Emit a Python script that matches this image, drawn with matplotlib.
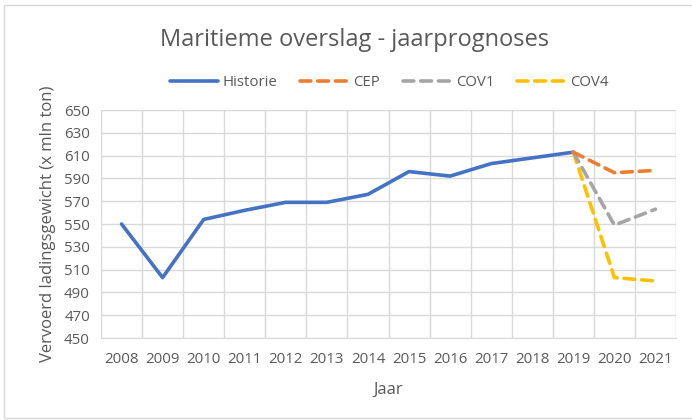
import matplotlib
matplotlib.use("Agg")
import matplotlib.pyplot as plt
from matplotlib.patches import Rectangle

# data
years = ["2008", "2009", "2010", "2011", "2012", "2013", "2014",
         "2015", "2016", "2017", "2018", "2019", "2020", "2021"]
historie = [550, 503, 554, 562, 569, 569, 576, 596, 592, 603, 608, 613]
cep = [613, 595, 597]
cov1 = [613, 549, 563]
cov4 = [613, 503, 500]
y_ticks = list(range(450, 651, 20))

plt.rcParams['font.family'] = ['Open Sans', 'DejaVu Sans']
text_col = '#595959'

fig = plt.figure(figsize=(6.92, 4.2), dpi=100)
ax = fig.add_axes([101 / 692, 82 / 420, 575 / 692, 228 / 420])

x_hist = list(range(len(historie)))
x_fc = list(range(len(historie) - 1, len(years)))

ax.plot(x_hist, historie, color='#4472C4', lw=2.6, solid_capstyle='round',
        solid_joinstyle='round', label='Historie', zorder=3)
dash = (3.0, 1.9)
for vals, col, name in [(cov4, '#FFC000', 'COV4'), (cov1, '#A5A5A5', 'COV1'),
                        (cep, '#ED7D31', 'CEP')]:
    ax.plot(x_fc, vals, color=col, lw=2.6, dashes=dash, dash_capstyle='round',
            dash_joinstyle='round', label=name, zorder=3)

ax.set_xlim(-0.5, len(years) - 0.5)
ax.set_ylim(450, 650)
ax.set_yticks(y_ticks)
ax.set_xticks(range(len(years)))
ax.set_xticklabels(years)
ax.set_xticks([i - 0.5 for i in range(len(years) + 1)], minor=True)
ax.grid(True, which='minor', axis='x', color='#D9D9D9', lw=1)
ax.grid(True, which='major', axis='y', color='#D9D9D9', lw=1)
ax.tick_params(which='both', length=0)
ax.tick_params(axis='both', labelsize=10.8, colors=text_col)
ax.tick_params(axis='x', pad=10)
ax.tick_params(axis='y', pad=8)
for s in ['top', 'right', 'left']:
    ax.spines[s].set_visible(False)
ax.spines['bottom'].set_color('#D9D9D9')
ax.set_axisbelow(True)

ax.set_xlabel('Jaar', fontsize=12, color=text_col, labelpad=11)
ax.set_ylabel('Vervoerd ladingsgewicht (x mln ton)', fontsize=12,
              color=text_col, labelpad=6)

fig.text(355 / 692, 1 - 40 / 420, 'Maritieme overslag - jaarprognoses',
         ha='center', va='center', fontsize=17, color=text_col)

handles, labels = ax.get_legend_handles_labels()
order = [0, 3, 2, 1]
fig.legend([handles[i] for i in order], [labels[i] for i in order],
           loc='center', bbox_to_anchor=(389 / 692, 1 - 83 / 420), ncol=4,
           frameon=False, fontsize=10.8, handlelength=3.2, handletextpad=0.35,
           columnspacing=1.5, labelcolor=text_col)

# outer chart border
fig.patches.append(Rectangle((4 / 692, 2 / 420), 0.999, 413 / 420,
                             transform=fig.transFigure, fill=False,
                             edgecolor='#D9D9D9', lw=1))

fig.savefig('out.png', dpi=100)
